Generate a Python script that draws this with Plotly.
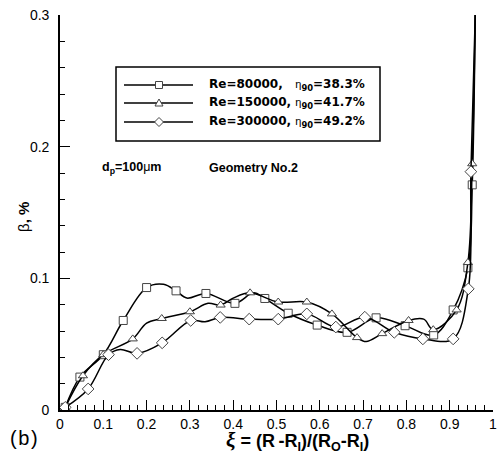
import plotly.graph_objects as go

# Re=80000 - curve points and square marker points
x_re80_line = [0.012, 0.046, 0.100, 0.146, 0.200, 0.239, 0.268, 0.293, 0.337, 0.404, 0.447,
               0.473, 0.527, 0.594, 0.663, 0.730, 0.797, 0.863, 0.908, 0.942, 0.952, 0.959]
y_re80_line = [0.002, 0.025, 0.042, 0.068, 0.093, 0.0955, 0.0905, 0.085, 0.0885, 0.081, 0.089,
               0.0847, 0.0735, 0.0645, 0.059, 0.070, 0.064, 0.057, 0.076, 0.108, 0.171, 0.300]
x_re80_mk = [0.012, 0.046, 0.100, 0.146, 0.200, 0.268, 0.337, 0.404, 0.473, 0.527,
             0.594, 0.663, 0.730, 0.797, 0.863, 0.908, 0.942, 0.952]
y_re80_mk = [0.002, 0.025, 0.042, 0.068, 0.093, 0.0905, 0.0885, 0.081, 0.0847, 0.0735,
             0.0645, 0.059, 0.070, 0.064, 0.057, 0.076, 0.108, 0.171]

# Re=150000 - curve points and triangle marker points
x_re150_line = [0.012, 0.053, 0.100, 0.168, 0.200, 0.235, 0.300, 0.342, 0.371, 0.400, 0.439,
                0.504, 0.570, 0.628, 0.686, 0.707, 0.744, 0.805, 0.840, 0.862, 0.916, 0.942,
                0.952, 0.959]
y_re150_line = [0.002, 0.026, 0.042, 0.054, 0.066, 0.0695, 0.0746, 0.081, 0.0797, 0.085, 0.089,
                0.082, 0.082, 0.073, 0.055, 0.052, 0.058, 0.068, 0.069, 0.061, 0.076, 0.112,
                0.187, 0.300]
x_re150_mk = [0.012, 0.053, 0.100, 0.168, 0.235, 0.300, 0.371, 0.439, 0.504, 0.570,
              0.628, 0.686, 0.744, 0.805, 0.862, 0.916, 0.942, 0.952]
y_re150_mk = [0.002, 0.026, 0.042, 0.054, 0.0695, 0.0746, 0.0797, 0.089, 0.082, 0.082,
              0.073, 0.055, 0.058, 0.068, 0.061, 0.076, 0.112, 0.187]

# Re=300000 - curve points and diamond marker points
x_re300_line = [0.012, 0.065, 0.112, 0.139, 0.178, 0.236, 0.302, 0.335, 0.370, 0.437, 0.504,
                0.570, 0.637, 0.704, 0.772, 0.838, 0.908, 0.943, 0.949, 0.959]
y_re300_line = [0.002, 0.016, 0.042, 0.046, 0.043, 0.051, 0.068, 0.067, 0.0703, 0.069, 0.069,
                0.073, 0.063, 0.0705, 0.059, 0.054, 0.054, 0.092, 0.181, 0.300]
x_re300_mk = [0.012, 0.065, 0.112, 0.178, 0.236, 0.302, 0.370, 0.437, 0.504, 0.570,
              0.637, 0.704, 0.772, 0.838, 0.908, 0.943, 0.949]
y_re300_mk = [0.002, 0.016, 0.042, 0.043, 0.051, 0.068, 0.0703, 0.069, 0.069, 0.073,
              0.063, 0.0705, 0.059, 0.054, 0.054, 0.092, 0.181]

series = [
    ("Re=80000,\u00a0\u00a0\u00a0", "38.3%", x_re80_line, y_re80_line, x_re80_mk, y_re80_mk,
     "square", 8),
    ("Re=150000,\u00a0", "41.7%", x_re150_line, y_re150_line, x_re150_mk, y_re150_mk,
     "triangle-up", 8),
    ("Re=300000,\u00a0", "49.2%", x_re300_line, y_re300_line, x_re300_mk, y_re300_mk,
     "diamond", 9),
]

# plot area in pixels: x 60..493, y 15..410
L, R, T, B = 60, 493, 15, 410


def px_x(p):
    return (p - L) / (R - L)


def px_y(p):
    return (B - p) / (B - T)


fig = go.Figure()

for name, eta, xl, yl, xm, ym, sym, size in series:
    fig.add_trace(go.Scatter(
        x=xl, y=yl, mode='lines',
        line=dict(color='black', width=1.5, shape='spline', smoothing=1.0),
        showlegend=False, hoverinfo='skip'
    ))
    fig.add_trace(go.Scatter(
        x=xm, y=ym, mode='markers',
        marker=dict(symbol=sym, size=size, color='white',
                    line=dict(color='#444', width=1)),
        showlegend=False, name=name
    ))

shapes = []
annotations = []

# legend box drawn by hand (long sample lines like the original)
shapes.append(dict(type='rect', xref='paper', yref='paper',
                   x0=px_x(116), x1=px_x(380), y0=px_y(141), y1=px_y(67),
                   line=dict(color='black', width=1.5), fillcolor='white', layer='above'))
rows = [85, 103, 122]
for (name, eta, xl, yl, xm, ym, sym, size), ry in zip(series, rows):
    shapes.append(dict(type='line', xref='paper', yref='paper',
                       x0=px_x(124), x1=px_x(193), y0=px_y(ry), y1=px_y(ry),
                       line=dict(color='black', width=1.5), layer='above'))
    cx = 159
    if sym == 'square':
        path = f"M{px_x(cx-3.5)},{px_y(ry-3.5)} L{px_x(cx+3.5)},{px_y(ry-3.5)} " \
               f"L{px_x(cx+3.5)},{px_y(ry+3.5)} L{px_x(cx-3.5)},{px_y(ry+3.5)} Z"
    elif sym == 'triangle-up':
        path = f"M{px_x(cx)},{px_y(ry-4)} L{px_x(cx+4)},{px_y(ry+3)} " \
               f"L{px_x(cx-4)},{px_y(ry+3)} Z"
    else:
        path = f"M{px_x(cx)},{px_y(ry-4.5)} L{px_x(cx+4.5)},{px_y(ry)} " \
               f"L{px_x(cx)},{px_y(ry+4.5)} L{px_x(cx-4.5)},{px_y(ry)} Z"
    shapes.append(dict(type='path', xref='paper', yref='paper', path=path,
                       line=dict(color='#444', width=1), fillcolor='white', layer='above'))
    annotations.append(dict(
        xref='paper', yref='paper', x=px_x(207), y=px_y(ry), xanchor='left', yanchor='middle',
        showarrow=False,
        text=f"<b>{name}</b><span style='font-family:Liberation Sans;font-size:11px'>η</span>"
             f"<sub><b>90</b></sub><b>={eta}</b>",
        font=dict(family='DejaVu Sans', size=12, color='black')
    ))

annotations += [
    dict(xref='paper', yref='paper', x=px_x(100), y=px_y(168), xanchor='left', yanchor='middle',
         showarrow=False, text="<b>d<sub>p</sub>=100</b>μ<b>m</b>",
         font=dict(family='Liberation Sans, Arial', size=12.5, color='black')),
    dict(xref='paper', yref='paper', x=px_x(207), y=px_y(168), xanchor='left', yanchor='middle',
         showarrow=False, text="<b>Geometry No.2</b>",
         font=dict(family='Liberation Sans, Arial', size=12.5, color='black')),
    dict(xref='paper', yref='paper', x=px_x(23), y=px_y(217), xanchor='center', yanchor='middle',
         showarrow=False, textangle=-90, text="β<b>, %</b>",
         font=dict(family='Liberation Sans, Arial', size=15, color='black')),
    dict(xref='paper', yref='paper', x=px_x(297), y=px_y(441), xanchor='center', yanchor='middle',
         showarrow=False,
         text="<span style='font-family:Liberation Serif;font-size:21px'><b><i>ξ</i></b></span>"
              "<b>\u00a0=\u00a0(R\u2009-R<sub>I</sub>)/(R<sub>O</sub>-R<sub>I</sub>)</b>",
         font=dict(family='Liberation Sans, Arial', size=18, color='black')),
    dict(xref='paper', yref='paper', x=px_x(8), y=px_y(438), xanchor='left', yanchor='middle',
         showarrow=False, text="(\u200ab\u200a)",
         font=dict(family='Liberation Sans, Arial', size=20, color='black')),
]

axis_common = dict(
    showgrid=False, zeroline=False, showline=True, linecolor='black', linewidth=1.6,
    ticks='inside', ticklen=10, tickwidth=1.2, tickcolor='black',
    tickfont=dict(family='Liberation Sans, Arial', size=14, color='black'),
    minor=dict(ticks='inside', ticklen=5, tickwidth=1, tickcolor='black', dtick=0.02),
)

fig.update_layout(
    width=502, height=462,
    margin=dict(l=L, r=502 - R, t=T, b=462 - B),
    paper_bgcolor='white', plot_bgcolor='white',
    showlegend=False,
    xaxis=dict(range=[0, 1], dtick=0.1, tick0=0, automargin=False, **axis_common),
    yaxis=dict(range=[0, 0.3], dtick=0.1, tick0=0, ticklabelstandoff=6, automargin=False,
               **axis_common),
    shapes=shapes, annotations=annotations,
)

# the page body has a default 8px margin; drop it so the figure sits at the corner
fig.write_html("out.html", config={'displayModeBar': False},
               post_script="document.body.style.margin='0px';")
